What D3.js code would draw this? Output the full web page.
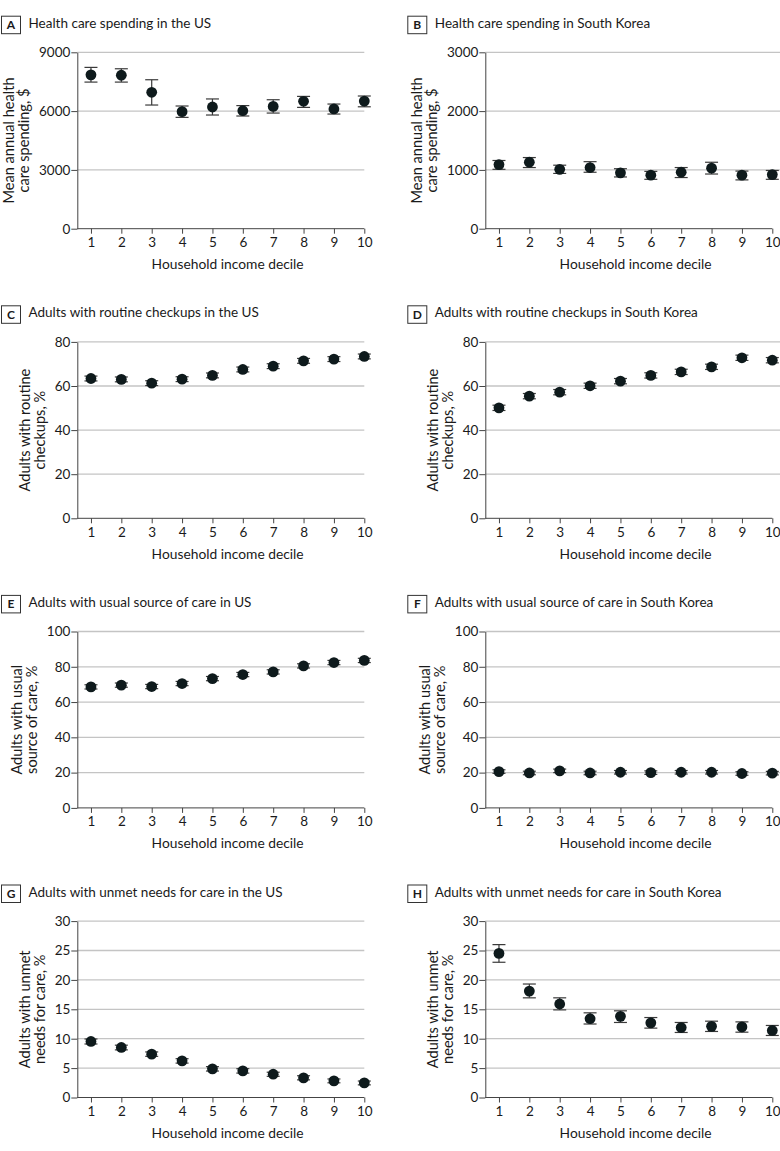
<!DOCTYPE html>
<html>
<head>
<meta charset="utf-8">
<script src="https://cdn.jsdelivr.net/npm/d3@7"></script>
<style>
  html, body { margin: 0; padding: 0; background: #fff; }
  svg { display: block; }
  text { font-family: Lato, "Noto Sans", sans-serif; fill: #1a1a1a; }
</style>
</head>
<body>
<svg id="chart" width="780" height="1151"></svg>
<script>
// ---- Data ----
const deciles = [1, 2, 3, 4, 5, 6, 7, 8, 9, 10];

const panelLetters = ["A", "B", "C", "D", "E", "F", "G", "H"];
const panelTitles = [
  "Health care spending in the US",
  "Health care spending in South Korea",
  "Adults with routine checkups in the US",
  "Adults with routine checkups in South Korea",
  "Adults with usual source of care in US",
  "Adults with usual source of care in South Korea",
  "Adults with unmet needs for care in the US",
  "Adults with unmet needs for care in South Korea"
];
const yTitles = [
  ["Mean annual health", "care spending, $"],
  ["Mean annual health", "care spending, $"],
  ["Adults with routine", "checkups, %"],
  ["Adults with routine", "checkups, %"],
  ["Adults with usual", "source of care, %"],
  ["Adults with usual", "source of care, %"],
  ["Adults with unmet", "needs for care, %"],
  ["Adults with unmet", "needs for care, %"]
];
const yTicksA = [0, 3000, 6000, 9000];
const yTicksB = [0, 1000, 2000, 3000];
const yTicksCD = [0, 20, 40, 60, 80];
const yTicksEF = [0, 20, 40, 60, 80, 100];
const yTicksGH = [0, 5, 10, 15, 20, 25, 30];
const xTitle = "Household income decile";

// A: US spending
const usSpend      = [7850, 7830, 6960, 5970, 6210, 6020, 6240, 6500, 6110, 6510];
const usSpendLo    = [7480, 7480, 6310, 5680, 5800, 5750, 5900, 6190, 5850, 6220];
const usSpendHi    = [8230, 8160, 7600, 6260, 6620, 6280, 6580, 6750, 6360, 6770];
// B: Korea spending
const krSpend      = [1090, 1130, 1010, 1040, 950, 910, 960, 1030, 910, 920];
const krSpendLo    = [1010, 1040, 940, 960, 880, 840, 870, 930, 830, 840];
const krSpendHi    = [1160, 1210, 1080, 1140, 1020, 975, 1040, 1130, 980, 990];
// C: US routine checkups
const usCheck      = [63.4, 63.0, 61.3, 63.1, 64.8, 67.5, 69.0, 71.4, 72.2, 73.4];
const usCheckLo    = [62.3, 61.9, 60.2, 62.0, 63.7, 66.4, 67.9, 70.3, 71.1, 72.3];
const usCheckHi    = [64.5, 64.1, 62.4, 64.2, 65.9, 68.6, 70.1, 72.5, 73.3, 74.5];
// D: Korea routine checkups
const krCheck      = [50.1, 55.4, 57.2, 60.1, 62.2, 64.8, 66.4, 68.7, 72.8, 71.7];
const krCheckLo    = [48.9, 54.2, 56.0, 58.9, 61.0, 63.6, 65.2, 67.5, 71.6, 70.5];
const krCheckHi    = [51.3, 56.6, 58.4, 61.3, 63.4, 66.0, 67.6, 69.9, 74.0, 72.9];
// E: US usual source of care
const usUsual      = [68.6, 69.6, 68.8, 70.5, 73.3, 75.6, 77.1, 80.5, 82.4, 83.6];
const usUsualLo    = [67.4, 68.4, 67.6, 69.3, 72.1, 74.4, 75.9, 79.3, 81.2, 82.4];
const usUsualHi    = [69.8, 70.8, 70.0, 71.7, 74.5, 76.8, 78.3, 81.7, 83.6, 84.8];
// F: Korea usual source of care
const krUsual      = [20.6, 19.8, 21.0, 19.8, 20.2, 20.0, 20.2, 20.2, 19.5, 19.7];
const krUsualLo    = [19.6, 18.8, 20.0, 18.8, 19.2, 19.0, 19.2, 19.2, 18.5, 18.7];
const krUsualHi    = [21.6, 20.8, 22.0, 20.8, 21.2, 21.0, 21.2, 21.2, 20.5, 20.7];
// G: US unmet needs
const usUnmet      = [9.53, 8.51, 7.37, 6.23, 4.87, 4.53, 3.96, 3.34, 2.83, 2.49];
const usUnmetLo    = [9.1, 8.1, 7.0, 5.85, 4.5, 4.15, 3.6, 3.0, 2.5, 2.15];
const usUnmetHi    = [9.95, 8.9, 7.75, 6.6, 5.25, 4.9, 4.3, 3.7, 3.15, 2.8];
// H: Korea unmet needs
const krUnmet      = [24.5, 18.1, 15.9, 13.4, 13.8, 12.7, 11.9, 12.1, 12.0, 11.4];
const krUnmetLo    = [23.0, 16.95, 14.9, 12.5, 12.76, 11.8, 11.06, 11.23, 11.11, 10.55];
const krUnmetHi    = [26.0, 19.3, 16.95, 14.4, 14.74, 13.6, 12.76, 12.98, 12.86, 12.25];

const series = [
  [usSpend, usSpendLo, usSpendHi, yTicksA],
  [krSpend, krSpendLo, krSpendHi, yTicksB],
  [usCheck, usCheckLo, usCheckHi, yTicksCD],
  [krCheck, krCheckLo, krCheckHi, yTicksCD],
  [usUsual, usUsualLo, usUsualHi, yTicksEF],
  [krUsual, krUsualLo, krUsualHi, yTicksEF],
  [usUnmet, usUnmetLo, usUnmetHi, yTicksGH],
  [krUnmet, krUnmetLo, krUnmetHi, yTicksGH]
];

// ---- Layout ----
const colAxisX = [77.3, 485.3];
const colTickEnd = [364.3, 772.3];
const colGridEnd = [364.3, 780];
const rowTop0 = 52.3, rowStep = 289.6, plotH = 176.4;

const svg = d3.select("#chart");

series.forEach((s, i) => {
  const col = i % 2, row = Math.floor(i / 2);
  const [vals, lo, hi, ticks] = s;
  const top = rowTop0 + row * rowStep;
  const bottom = top + plotH;
  const x0 = colAxisX[col];

  const x = d3.scaleLinear().domain([0.55, 10]).range([x0, colTickEnd[col]]);
  const y = d3.scaleLinear().domain([0, d3.max(ticks)]).range([bottom, top]);

  const g = svg.append("g");

  // panel label box and title
  const boxX = col === 0 ? 1 : 407.3;
  g.append("rect")
    .attr("x", boxX + 0.5).attr("y", top - 36.6 + 0.5)
    .attr("width", 19).attr("height", 17.5)
    .attr("fill", "none").attr("stroke", "#333").attr("stroke-width", 1);
  g.append("text")
    .attr("x", boxX + 10).attr("y", top - 23.4)
    .attr("text-anchor", "middle")
    .attr("font-size", 12).attr("font-weight", 700)
    .text(panelLetters[i]);
  g.append("text")
    .attr("x", boxX + 27.5).attr("y", top - 24.6)
    .attr("font-size", 13.5)
    .text(panelTitles[i]);

  // gridlines
  g.append("g").selectAll("line")
    .data(ticks.filter(t => t > 0))
    .join("line")
    .attr("x1", x0).attr("x2", colGridEnd[col])
    .attr("y1", d => y(d)).attr("y2", d => y(d))
    .attr("stroke", "#c4c4c4").attr("stroke-width", 1.3);

  // y axis
  const yAxis = g.append("g")
    .attr("transform", `translate(${x0},0)`)
    .call(d3.axisLeft(y).tickValues(ticks).tickSize(6).tickPadding(1).tickSizeOuter(0).tickFormat(d3.format("d")));
  yAxis.selectAll("text").attr("font-size", 13.5).attr("fill", "#1a1a1a").attr("font-family", "Lato, sans-serif");
  yAxis.selectAll("line,path").attr("stroke", "#444");

  // x axis
  const xAxis = g.append("g")
    .attr("transform", `translate(0,${bottom})`)
    .call(d3.axisBottom(x).tickValues(deciles).tickSize(5).tickPadding(4).tickSizeOuter(0));
  xAxis.select("path").attr("d", `M${x0},0H${colTickEnd[col]}`);
  xAxis.selectAll("text").attr("font-size", 13.5).attr("fill", "#1a1a1a").attr("font-family", "Lato, sans-serif");
  xAxis.selectAll("line,path").attr("stroke", "#444");

  // x title
  g.append("text")
    .attr("x", (x(1) + x(10)) / 2).attr("y", bottom + 40.5)
    .attr("text-anchor", "middle").attr("font-size", 13.8)
    .text(xTitle);

  // y title
  let minX = 0;
  yAxis.selectAll("text").each(function () {
    const b = this.getBBox();
    minX = Math.min(minX, b.x);
  });
  const line2X = x0 + minX - 9.8;
  const cy = (top + bottom) / 2;
  yTitles[i].forEach((t, k) => {
    const bx = line2X - (1 - k) * 15;
    g.append("text")
      .attr("transform", `translate(${bx},${cy}) rotate(-90)`)
      .attr("text-anchor", "middle").attr("font-size", 14.6)
      .text(t);
  });

  // error bars
  const eb = g.append("g").attr("stroke", "#3a3a3a").attr("stroke-width", 1.2);
  deciles.forEach((d, j) => {
    const cx = x(d);
    eb.append("line").attr("x1", cx).attr("x2", cx).attr("y1", y(lo[j])).attr("y2", y(hi[j]));
    eb.append("line").attr("x1", cx - 6.5).attr("x2", cx + 6.5).attr("y1", y(lo[j])).attr("y2", y(lo[j]));
    eb.append("line").attr("x1", cx - 6.5).attr("x2", cx + 6.5).attr("y1", y(hi[j])).attr("y2", y(hi[j]));
  });

  // dots
  g.append("g").selectAll("circle")
    .data(deciles)
    .join("circle")
    .attr("cx", d => x(d))
    .attr("cy", (d, j) => y(vals[j]))
    .attr("r", 5.4)
    .attr("fill", "#0e1a1c");
});
</script>
</body>
</html>
